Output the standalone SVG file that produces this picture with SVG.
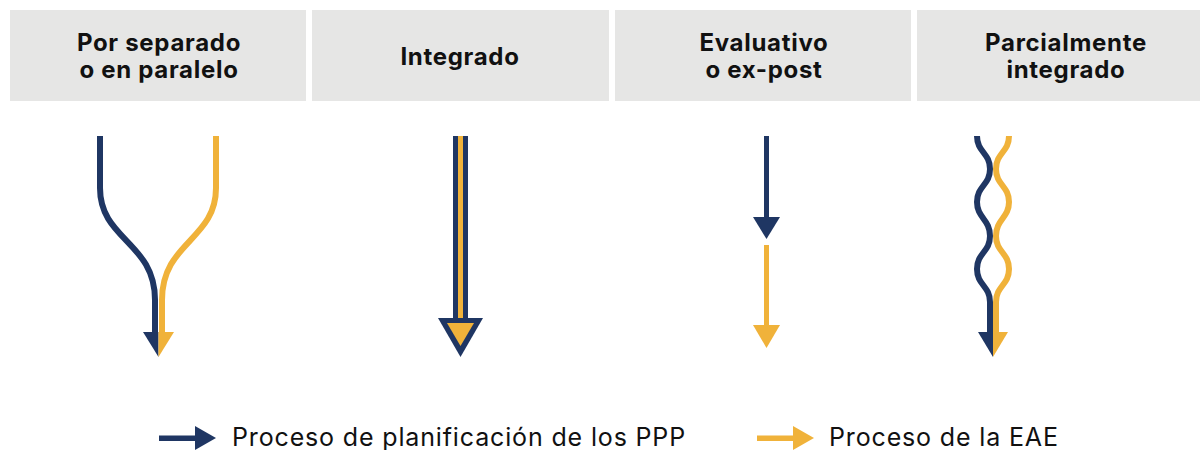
<svg xmlns="http://www.w3.org/2000/svg" width="1200" height="450" viewBox="0 0 1200 450">
<style>
.hdr{fill:#e6e6e5}
.ht{font-family:Inter,"Liberation Sans",sans-serif;font-weight:700;font-size:24px;letter-spacing:0.7px;fill:#111;text-anchor:middle}
.lt{font-family:Inter,"Liberation Sans",sans-serif;font-size:25px;letter-spacing:0.85px;fill:#111}
.nv{fill:none;stroke:#1f3663;stroke-width:6}
.yl{fill:none;stroke:#f0b23a;stroke-width:6}
.nf{fill:#1f3663}
.yf{fill:#f0b23a}
</style>
<rect width="1200" height="450" fill="#fff"/>
<g id="h1"><rect class="hdr" x="10" y="10" width="296" height="91"/><text class="ht" x="159" y="51">Por separado</text><text class="ht" x="159" y="78">o en paralelo</text></g>
<g id="h2"><rect class="hdr" x="312" y="10" width="297" height="91"/><text class="ht" x="460" y="65">Integrado</text></g>
<g id="h3"><rect class="hdr" x="615" y="10" width="296" height="91"/><text class="ht" x="764" y="51">Evaluativo</text><text class="ht" x="764" y="78">o ex-post</text></g>
<g id="h4"><rect class="hdr" x="917" y="10" width="283" height="91"/><text class="ht" x="1066" y="51">Parcialmente</text><text class="ht" x="1066" y="78">integrado</text></g>
<g id="connectors">
<g id="c1">
<path class="nv" d="M100,136 V188 C100,240 155,242 155,300 V335"/>
<path class="yl" d="M216,136 V188 C216,240 162,242 162,300 V335"/>
<polygon class="nf" points="143,332 158.5,332 158.5,357"/>
<polygon class="yf" points="158.5,332 174,332 158.5,357"/>
</g>
<g id="c2">
<rect class="nf" x="453" y="136" width="15" height="186"/>
<rect class="yf" x="458" y="136" width="5" height="190"/>
<polygon class="nf" points="438,318 483,318 460.5,357"/>
<polygon class="yf" points="447,323 474,323 460.5,346"/>
</g>
<g id="c3">
<rect class="nf" x="764" y="136" width="5" height="84"/>
<polygon class="nf" points="753,217 780,217 766.5,239"/>
<rect class="yf" x="764" y="245" width="5" height="83"/>
<polygon class="yf" points="753,325 780,325 766.5,348"/>
</g>
<g id="c4">
<path class="nv" d="M977,136 C977,152 990,153 990,169 C990,185 977,186 977,202 C977,218 990,219 990,236 C990,252 977,253 977,269 C977,285 990,286 990,302 V335"/>
<path class="yl" d="M1009,136 C1009,152 996,153 996,169 C996,185 1009,186 1009,202 C1009,218 996,219 996,236 C996,252 1009,253 1009,269 C1009,285 996,286 996,302 V335"/>
<polygon class="nf" points="978,332 993,332 993,357"/>
<polygon class="yf" points="993,332 1008,332 993,357"/>
</g>
</g>
<g id="legend">
<rect class="nf" x="159" y="435.5" width="38" height="5.5"/>
<polygon class="nf" points="195,426 216,438 195,450"/>
<text class="lt" x="232" y="446">Proceso de planificación de los PPP</text>
<rect class="yf" x="757" y="435.5" width="38" height="5.5"/>
<polygon class="yf" points="793,426 814,438 793,450"/>
<text class="lt" x="829" y="446">Proceso de la EAE</text>
</g>
</svg>
